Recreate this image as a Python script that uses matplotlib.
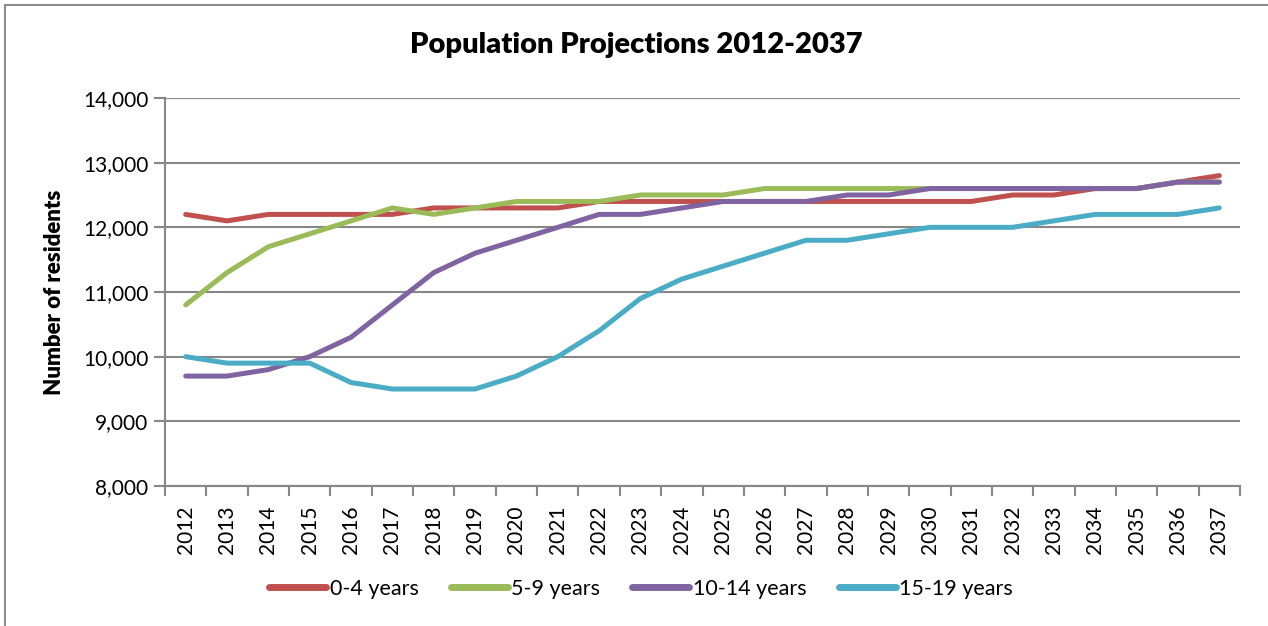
import numpy as np
import matplotlib
matplotlib.use("Agg")
import matplotlib.pyplot as plt
from matplotlib.patches import Rectangle
from matplotlib.ticker import FuncFormatter, FixedLocator

plt.rcParams["font.family"] = ["Lato", "DejaVu Sans"]

# Projected residents by age band
years = list(range(2012, 2038))
age_0_4 = [12200, 12100, 12200, 12200, 12200, 12200, 12300, 12300, 12300, 12300,
           12400, 12400, 12400, 12400, 12400, 12400, 12400, 12400, 12400, 12400,
           12500, 12500, 12600, 12600, 12700, 12800]
age_5_9 = [10800, 11300, 11700, 11900, 12100, 12300, 12200, 12300, 12400, 12400,
           12400, 12500, 12500, 12500, 12600, 12600, 12600, 12600, 12600, 12600,
           12600, 12600, 12600, 12600, 12700, 12700]
age_10_14 = [9700, 9700, 9800, 10000, 10300, 10800, 11300, 11600, 11800, 12000,
             12200, 12200, 12300, 12400, 12400, 12400, 12500, 12500, 12600, 12600,
             12600, 12600, 12600, 12600, 12700, 12700]
age_15_19 = [10000, 9900, 9900, 9900, 9600, 9500, 9500, 9500, 9700, 10000,
             10400, 10900, 11200, 11400, 11600, 11800, 11800, 11900, 12000, 12000,
             12000, 12100, 12200, 12200, 12200, 12300]

series = [
    ("0-4 years", age_0_4, "#C0504D"),
    ("5-9 years", age_5_9, "#9BBB59"),
    ("10-14 years", age_10_14, "#8064A2"),
    ("15-19 years", age_15_19, "#4BACC6"),
]

W, H = 1268, 626
fig = plt.figure(figsize=(W / 100, H / 100), dpi=100)
ax = fig.add_axes([165 / W, 1 - 486 / H, (1240 - 165) / W, (486 - 98) / H])

# outer chart frame (only top and left edges are visible in the crop)
fig.patches.append(Rectangle((5 / W, -0.1), 1.2, 1.1 - 5 / H, transform=fig.transFigure,
                             fill=False, edgecolor="#8c8c8c", linewidth=1.5))

x = np.arange(len(years))
for name, vals, col in series:
    ax.plot(x, vals, color=col, lw=3.6, label=name, solid_capstyle="round",
            solid_joinstyle="round")

ax.set_xlim(-0.5, len(years) - 0.5)
ax.set_ylim(8000, 14000)
ax.set_yticks(np.arange(8000, 14001, 1000))
ax.yaxis.set_major_formatter(FuncFormatter(lambda v, p: f"{int(v):,}"))
ax.set_xticks(x)
ax.set_xticklabels([str(y) for y in years], rotation=90)
ax.xaxis.set_minor_locator(FixedLocator(np.arange(-0.5, len(years), 1)))
ax.tick_params(axis="x", which="major", length=0, pad=14, labelsize=15)
ax.tick_params(axis="x", which="minor", length=7, width=1.5, color="#868686", direction="out")
ax.tick_params(axis="y", length=8, width=1.5, color="#868686", direction="out", pad=4,
               labelsize=15)

ax.grid(axis="y", color="#868686", linewidth=1.5)
ax.set_axisbelow(True)
for s in ["top", "right"]:
    ax.spines[s].set_visible(False)
for s in ["left", "bottom"]:
    ax.spines[s].set_color("#868686")
    ax.spines[s].set_linewidth(1.5)

fig.text(636 / W, 1 - 45 / H, "Population Projections 2012-2037", ha="center", va="center",
         fontsize=21, fontweight="heavy")
fig.text(55 / W, 1 - 292 / H, "Number of residents", ha="center", va="center",
         rotation=90, fontsize=16, fontweight="heavy")

leg = fig.legend(loc="center", bbox_to_anchor=(641 / W, 1 - 589 / H), ncol=4, frameon=False,
                 fontsize=15.5, handlelength=2.65, handletextpad=0.15, columnspacing=1.5)
for h in leg.get_lines():
    h.set_linewidth(5)

fig.savefig("out.png", dpi=100)
